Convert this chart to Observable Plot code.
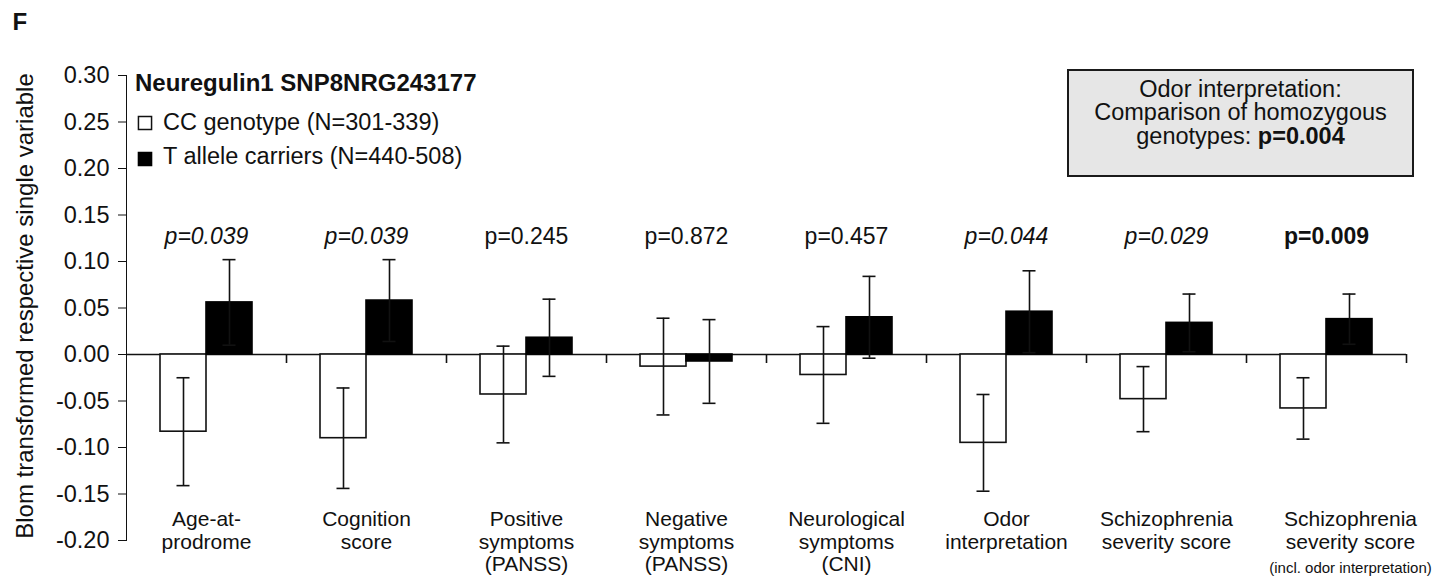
<!DOCTYPE html>
<html>
<head>
<meta charset="utf-8">
<script src="https://cdn.jsdelivr.net/npm/d3@7"></script>
<script src="https://cdn.jsdelivr.net/npm/@observablehq/plot@0.6"></script>
<style>
  html, body { margin: 0; padding: 0; background: #fff; }
  #chart {
    position: relative; width: 1433px; height: 579px;
    font-family: "Liberation Sans", Arial, Helvetica, sans-serif; color: #111;
  }
  #note {
    position: absolute; left: 1067px; top: 69px; width: 347px; height: 108px;
    box-sizing: border-box; border: 2px solid #1a1a1a; background: #e6e6e6;
    text-align: center; font-size: 23.5px; line-height: 23.4px; padding-top: 7px;
  }
</style>
</head>
<body>
<div id="chart">
  <div id="note">Odor interpretation:<br>Comparison of homozygous<br>genotypes: <b>p=0.004</b></div>
</div>
<script>
// Variables (one group of bars each)
const variables = [
  "Age-at-prodrome",
  "Cognition score",
  "Positive symptoms (PANSS)",
  "Negative symptoms (PANSS)",
  "Neurological symptoms (CNI)",
  "Odor interpretation",
  "Schizophrenia severity score",
  "Schizophrenia severity score (incl. odor interpretation)"
];
const axisLabels = [
  "Age-at-\nprodrome",
  "Cognition\nscore",
  "Positive\nsymptoms\n(PANSS)",
  "Negative\nsymptoms\n(PANSS)",
  "Neurological\nsymptoms\n(CNI)",
  "Odor\ninterpretation",
  "Schizophrenia\nseverity score",
  "Schizophrenia\nseverity score"
];
const axisNotes = ["", "", "", "", "", "", "", "(incl. odor interpretation)"];

// Means and SEM of Blom-transformed scores
const ccMean = [-0.083, -0.090, -0.043, -0.013, -0.022, -0.095, -0.048, -0.058];
const ccErr  = [ 0.058,  0.054,  0.052,  0.052,  0.052,  0.052,  0.035,  0.033];
const tMean  = [ 0.056,  0.058,  0.018, -0.0075, 0.040,  0.046,  0.034,  0.038];
const tErr   = [ 0.046,  0.044,  0.0415, 0.045,  0.044,  0.044,  0.031,  0.027];

// Group comparison p-values and their emphasis
const pLabels = ["p=0.039", "p=0.039", "p=0.245", "p=0.872", "p=0.457", "p=0.044", "p=0.029", "p=0.009"];
const pStyle  = ["italic", "italic", "normal", "normal", "normal", "italic", "italic", "bold"];

const yTicks = [-0.20, -0.15, -0.10, -0.05, 0.00, 0.05, 0.10, 0.15, 0.20, 0.25, 0.30];
const yLabel = "Blom transformed respective single variable";
const legendTitle = "Neuregulin1 SNP8NRG243177";
const genotypes = ["CC genotype (N=301-339)", "T allele carriers (N=440-508)"];
const panel = "F";

const cc = variables.map((v, i) => ({variable: v, mean: ccMean[i], err: ccErr[i]}));
const tc = variables.map((v, i) => ({variable: v, mean: tMean[i], err: tErr[i]}));
const pRows = variables.map((v, i) => ({variable: v, label: pLabels[i], style: pStyle[i]}));
const labelRows = variables.map((v, i) => ({variable: v, label: axisLabels[i], note: axisNotes[i]}));

const lo = d => d.mean - d.err;
const hi = d => d.mean + d.err;
const ink = "#111";
const sw = 1.6;

const chart = Plot.plot({
  width: 1433,
  height: 579,
  marginLeft: 126,
  marginRight: 27,
  marginTop: 75,
  marginBottom: 39,
  style: {
    fontFamily: '"Liberation Sans", Arial, Helvetica, sans-serif',
    fontSize: "23.5px",
    color: ink,
    background: "transparent",
    overflow: "visible"
  },
  x: {domain: variables, padding: 0, axis: null},
  y: {
    domain: [-0.2, 0.3],
    ticks: yTicks,
    tickFormat: d => d.toFixed(2),
    tickSize: 8,
    tickPadding: 9,
    line: true,
    label: null
  },
  marks: [
    // baseline and group separators
    Plot.ruleY([0], {stroke: ink, strokeWidth: sw}),
    Plot.ruleX(variables, {x: d => d, y1: 0, y2: 0, dx: 80, insetBottom: -9, stroke: ink, strokeWidth: sw}),

    // bars
    Plot.barY(cc, {x: "variable", y: "mean", fill: "white", stroke: ink, strokeWidth: sw, insetLeft: 34, insetRight: 80}),
    Plot.barY(tc, {x: "variable", y: "mean", fill: "black", stroke: "black", strokeWidth: sw, insetLeft: 80, insetRight: 34}),

    // error bars (SEM)
    Plot.ruleX(cc, {x: "variable", y1: lo, y2: hi, dx: -23, stroke: ink, strokeWidth: sw}),
    Plot.tickY(cc, {x: "variable", y: lo, insetLeft: 50.5, insetRight: 96.5, stroke: ink, strokeWidth: sw}),
    Plot.tickY(cc, {x: "variable", y: hi, insetLeft: 50.5, insetRight: 96.5, stroke: ink, strokeWidth: sw}),
    Plot.ruleX(tc, {x: "variable", y1: lo, y2: hi, dx: 23, stroke: ink, strokeWidth: sw}),
    Plot.tickY(tc, {x: "variable", y: lo, insetLeft: 96.5, insetRight: 50.5, stroke: ink, strokeWidth: sw}),
    Plot.tickY(tc, {x: "variable", y: hi, insetLeft: 96.5, insetRight: 50.5, stroke: ink, strokeWidth: sw}),

    // p-values above each group
    Plot.text(pRows.filter(d => d.style === "italic"), {x: "variable", text: "label", frameAnchor: "top", dy: 168, lineAnchor: "bottom", fontSize: 23, fontStyle: "italic", fill: ink}),
    Plot.text(pRows.filter(d => d.style === "normal"), {x: "variable", text: "label", frameAnchor: "top", dy: 168, lineAnchor: "bottom", fontSize: 23, fill: ink}),
    Plot.text(pRows.filter(d => d.style === "bold"), {x: "variable", text: "label", frameAnchor: "top", dy: 168, lineAnchor: "bottom", fontSize: 23, fontWeight: "bold", fill: ink}),

    // variable names under the bars (the annotated last one sits a little to the right)
    Plot.text(labelRows.filter(d => !d.note), {x: "variable", text: "label", frameAnchor: "bottom", dy: -30, lineAnchor: "top", lineHeight: 1.07, fontSize: 21, fill: ink}),
    Plot.text(labelRows.filter(d => d.note), {x: "variable", text: "label", frameAnchor: "bottom", dx: 24, dy: -30, lineAnchor: "top", lineHeight: 1.07, fontSize: 21, fill: ink}),
    Plot.text(labelRows.filter(d => d.note), {x: "variable", text: "note", frameAnchor: "bottom", dx: 24, dy: 32, lineAnchor: "bottom", fontSize: 15, fill: ink}),

    // legend
    Plot.text([legendTitle], {frameAnchor: "top-left", dx: 8.5, dy: 15, lineAnchor: "bottom", textAnchor: "start", fontSize: 24, fontWeight: "bold", fill: ink}),
    Plot.dot([genotypes[0]], {frameAnchor: "top-left", dx: 18.5, dy: 47.5, symbol: "square", r: 7.4, fill: "white", stroke: ink, strokeWidth: 1.5}),
    Plot.text([genotypes[0]], {frameAnchor: "top-left", dx: 36.5, dy: 54, lineAnchor: "bottom", textAnchor: "start", fontSize: 23.5, fill: ink}),
    Plot.dot([genotypes[1]], {frameAnchor: "top-left", dx: 18.5, dy: 83.5, symbol: "square", r: 7.4, fill: "black", stroke: "black", strokeWidth: 1.5}),
    Plot.text([genotypes[1]], {frameAnchor: "top-left", dx: 36.5, dy: 88, lineAnchor: "bottom", textAnchor: "start", fontSize: 23.5, fill: ink}),

    // panel letter and y-axis title
    Plot.text([panel], {frameAnchor: "top-left", dx: -114, dy: -46, lineAnchor: "bottom", textAnchor: "start", fontSize: 24, fontWeight: "bold", fill: ink}),
    Plot.text([yLabel], {frameAnchor: "left", dx: -94, dy: -2, rotate: -90, textAnchor: "middle", lineAnchor: "bottom", fontSize: 24, fill: ink})
  ]
});

const root = document.getElementById("chart");
root.insertBefore(chart, root.firstChild);
</script>
</body>
</html>
